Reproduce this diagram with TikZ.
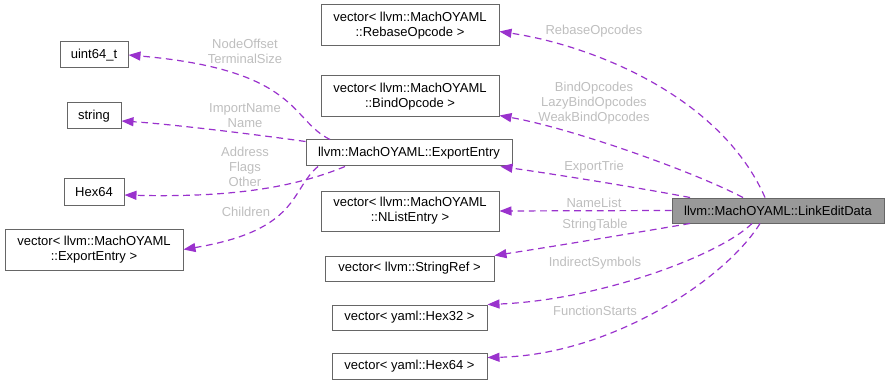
\documentclass[tikz,border=0pt]{standalone}
\usepackage{fontspec}
\setmainfont{Liberation Sans}
\usetikzlibrary{arrows.meta,calc}
\definecolor{edgecol}{HTML}{9A32CD}
\definecolor{boxline}{HTML}{666666}
\definecolor{labelcol}{HTML}{BEBEBE}
\definecolor{focusfill}{HTML}{999999}

\begin{document}
\begin{tikzpicture}[x=0.75pt,y=-0.75pt,
  every node/.style={font=\fontsize{9.75pt}{11.25pt}\selectfont},
  box/.style 2 args={minimum width=#1*0.75pt, minimum height=#2*0.75pt},
  cls/.style={draw=boxline, line width=0.75pt, fill=white, inner sep=0pt, align=center},
  focus/.style={cls, fill=focusfill},
  rel/.style={draw=edgecol, line width=0.9pt, dash pattern=on 5pt off 3.5pt,
    -{Triangle[length=9pt,width=6.75pt]}},
  tag/.style={text=labelcol, align=center, inner sep=0pt}
]
\useasboundingbox (0,0) rectangle (890,385);

% member types of ExportEntry
\node[cls, box={68}{26}] (u64) at (94,55) {uint64\_t};
\node[cls, box={54}{26}] (str) at (94,116) {string};
\node[cls, box={60}{26}] (hx) at (94,192) {Hex64};
\node[cls, box={178}{41}] (vee) at (94,249.5) {vector< llvm::MachOYAML\\::ExportEntry >};

% member types of LinkEditData
\node[cls, box={178}{41}] (reb) at (410,25.5) {vector< llvm::MachOYAML\\::RebaseOpcode >};
\node[cls, box={178}{41}] (bnd) at (410,96.5) {vector< llvm::MachOYAML\\::BindOpcode >};
\node[cls, box={206}{26}] (exp) at (409,153) {llvm::MachOYAML::ExportEntry};
\node[cls, box={178}{40}] (nls) at (410,211) {vector< llvm::MachOYAML\\::NListEntry >};
\node[cls, box={169}{25}] (sref) at (409.5,268.5) {vector< llvm::StringRef >};
\node[cls, box={155}{25}] (h32) at (409.5,317.5) {vector< yaml::Hex32 >};
\node[cls, box={155}{26}] (h64) at (409.5,366.5) {vector< yaml::Hex64 >};

% the documented class
\node[focus, box={212}{25}] (led) at (778,210.5) {llvm::MachOYAML::LinkEditData};

% LinkEditData members
\draw[rel] ($(led.north)+(-13,0)$) .. controls (720,95) and (590,45) .. ($(reb.east)+(0,6)$);
\draw[rel] ($(led.north)+(-35,0)$) .. controls (690,170) and (570,128) .. ($(bnd.south east)+(0,-2)$);
\draw[rel] ($(led.north)+(-88,0)$) .. controls (640,188) and (560,175) .. ($(exp.south east)+(-12,0)$);
\draw[rel] (led.west) -- (nls.east);
\draw[rel] ($(led.south)+(-88,0)$) .. controls (640,232) and (550,247) .. (sref.north east);
\draw[rel] ($(led.south)+(-26,0)$) .. controls (720,255) and (600,300) .. (h32.north east);
\draw[rel] ($(led.south)+(-18,0)$) .. controls (725,280) and (610,355) .. ($(h64.east)+(0,-9)$);

% ExportEntry members
\draw[rel] ($(exp.north)+(-79,0)$) .. controls (290,120) and (300,70) .. (u64.east);
\draw[rel] ($(exp.north west)+(0,2)$) .. controls (260,135) and (170,124) .. ($(str.east)+(0,5)$);
\draw[rel] ($(exp.south)+(-64,0)$) .. controls (300,185) and (240,198) .. ($(hx.east)+(0,3)$);
\draw[rel] ($(exp.south)+(-91,0)$) .. controls (290,190) and (300,230) .. (vee.east);

% member names
\node[tag] (lReb) at (594,31) {RebaseOpcodes};
\node[tag] (lBnd) at (594,103) {BindOpcodes\\LazyBindOpcodes\\WeakBindOpcodes};
\node[tag] (lTrie) at (594,167) {ExportTrie};
\node[tag] (lNls) at (594,203) {NameList};
\node[tag] (lStr) at (595,225) {StringTable};
\node[tag] (lInd) at (595,263) {IndirectSymbols};
\node[tag] (lFun) at (595,311) {FunctionStarts};
\node[tag] (lOff) at (245,51.5) {NodeOffset\\TerminalSize};
\node[tag] (lImp) at (245,116) {ImportName\\Name};
\node[tag] (lAddr) at (245,167) {Address\\Flags\\Other};
\node[tag] (lCh) at (246,212) {Children};
\end{tikzpicture}
\end{document}
